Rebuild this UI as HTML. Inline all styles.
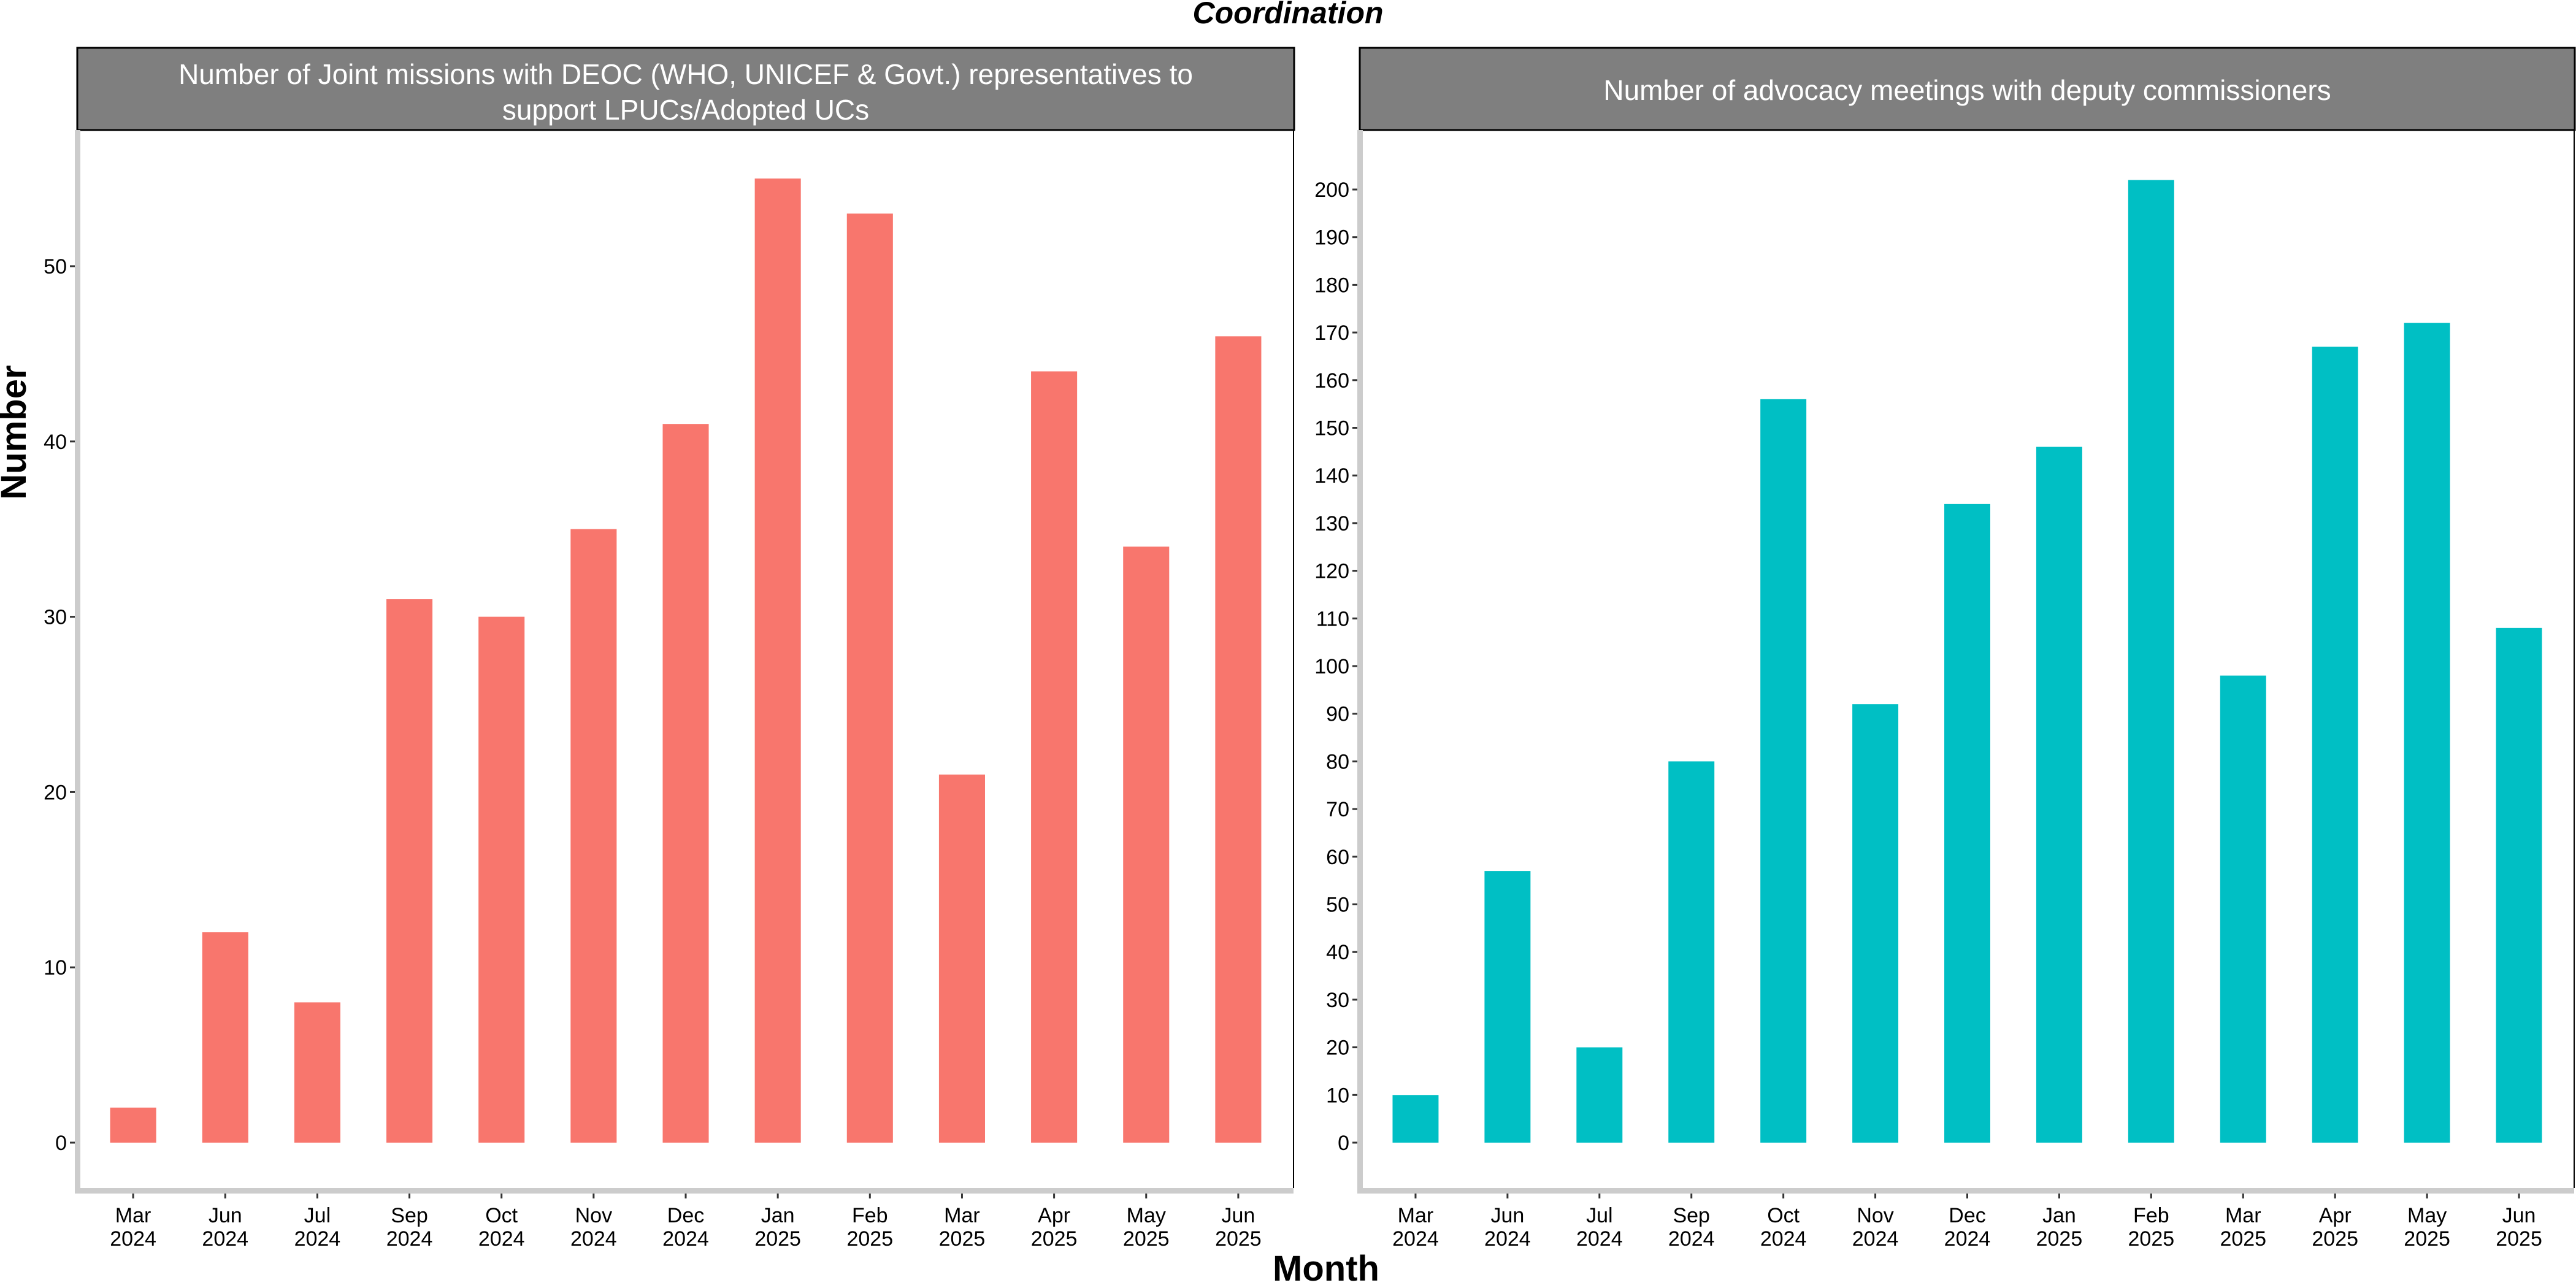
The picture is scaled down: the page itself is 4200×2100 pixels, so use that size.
<!DOCTYPE html>
<html><head><meta charset="utf-8"><style>
html,body{margin:0;padding:0;background:#fff;}
svg{display:block;font-family:"Liberation Sans",sans-serif;}
</style></head><body>
<svg id="chart" width="4200" height="2100" viewBox="0 0 4200 2100" xmlns="http://www.w3.org/2000/svg">
<text x="2100" y="38" text-anchor="middle" font-size="50" font-weight="bold" font-style="italic">Coordination</text>
<text transform="translate(42,705) rotate(-90)" text-anchor="middle" font-size="58" font-weight="bold">Number</text>
<text x="2162" y="2088" text-anchor="middle" font-size="58" font-weight="bold">Month</text>
<g id="panels"></g>
</svg>
<script>
const categories = ["Mar|2024","Jun|2024","Jul|2024","Sep|2024","Oct|2024","Nov|2024","Dec|2024","Jan|2025","Feb|2025","Mar|2025","Apr|2025","May|2025","Jun|2025"];
const jointMissions = [2,12,8,31,30,35,41,55,53,21,44,34,46];
const advocacyMeetings = [10,57,20,80,156,92,134,146,202,98,167,172,108];
const leftTicks = [0,10,20,30,40,50];
const rightTicks = [0,10,20,30,40,50,60,70,80,90,100,110,120,130,140,150,160,170,180,190,200];

const NS = "http://www.w3.org/2000/svg";
const root = document.getElementById('panels');
function mk(tag, attrs, parent){ const e=document.createElementNS(NS,tag); for(const k in attrs) e.setAttribute(k,attrs[k]); (parent||root).appendChild(e); return e; }

function panel(name, x0, x1, title, values, ticks, pxPerUnit, color){
  const g = mk('g',{});
  
  
  const zeroY = 1863;
  const yS = v => zeroY - v*pxPerUnit;
  const step = (x1-x0)/(categories.length - 1 + 1.2);
  const xS = i => x0 + step*(0.6 + i);
  // strip
  const strip = mk('rect',{x:x0-1,y:78,width:x1-x0+2,height:134,fill:'#7f7f7f',stroke:'#000','stroke-width':3},g);
  
  
  const lines = title.split('\n');
  lines.forEach((ln,k)=>{
    const t = mk('text',{x:(x0+x1)/2,y:(lines.length===1?163:137+k*58),'text-anchor':'middle','font-size':46,fill:'#fff'},g);
    t.textContent = ln;
    
    
  });
  // right border
  mk('line',{x1:x1,y1:212,x2:x1,y2:1937,stroke:'#000','stroke-width':2},g);
  // bars
  values.forEach((v,i)=>{
    const b = mk('rect',{x:xS(i)-step*0.25,y:yS(v),width:step*0.5,height:v*pxPerUnit,fill:color},g);
    
    
  });
  // axes
  mk('rect',{x:x0-5,y:212,width:9,height:1734,fill:'#cccccc'},g);
  mk('rect',{x:x0-5,y:1937,width:x1-x0+5,height:9,fill:'#cccccc'},g);
  ticks.forEach(v=>{
    const y=yS(v);
    mk('line',{x1:x0-13,y1:y,x2:x0-5,y2:y,stroke:'#333','stroke-width':3},g);
    const t=mk('text',{x:x0-18,y:y+12,'text-anchor':'end','font-size':34,fill:'#000'},g);
    t.textContent=v;
    
    
  });
  categories.forEach((c,i)=>{
    const x=xS(i);
    mk('line',{x1:x,y1:1946,x2:x,y2:1954,stroke:'#333','stroke-width':3},g);
    const [m,yr]=c.split('|');
    const t=mk('text',{x:x,y:1993,'text-anchor':'middle','font-size':34,fill:'#000'},g);
    t.textContent=m;
    
    
    const t2=mk('text',{x:x,y:2031,'text-anchor':'middle','font-size':34,fill:'#000'},g);
    t2.textContent=yr;
    
    
  });
}
panel('joint-missions-panel',127,2109,"Number of Joint missions with DEOC (WHO, UNICEF & Govt.) representatives to\nsupport LPUCs/Adopted UCs",jointMissions,leftTicks,28.58,'#F8766D');
panel('advocacy-meetings-panel',2218,4197,"Number of advocacy meetings with deputy commissioners",advocacyMeetings,rightTicks,7.77,'#00BFC4');
</script>
</body></html>
